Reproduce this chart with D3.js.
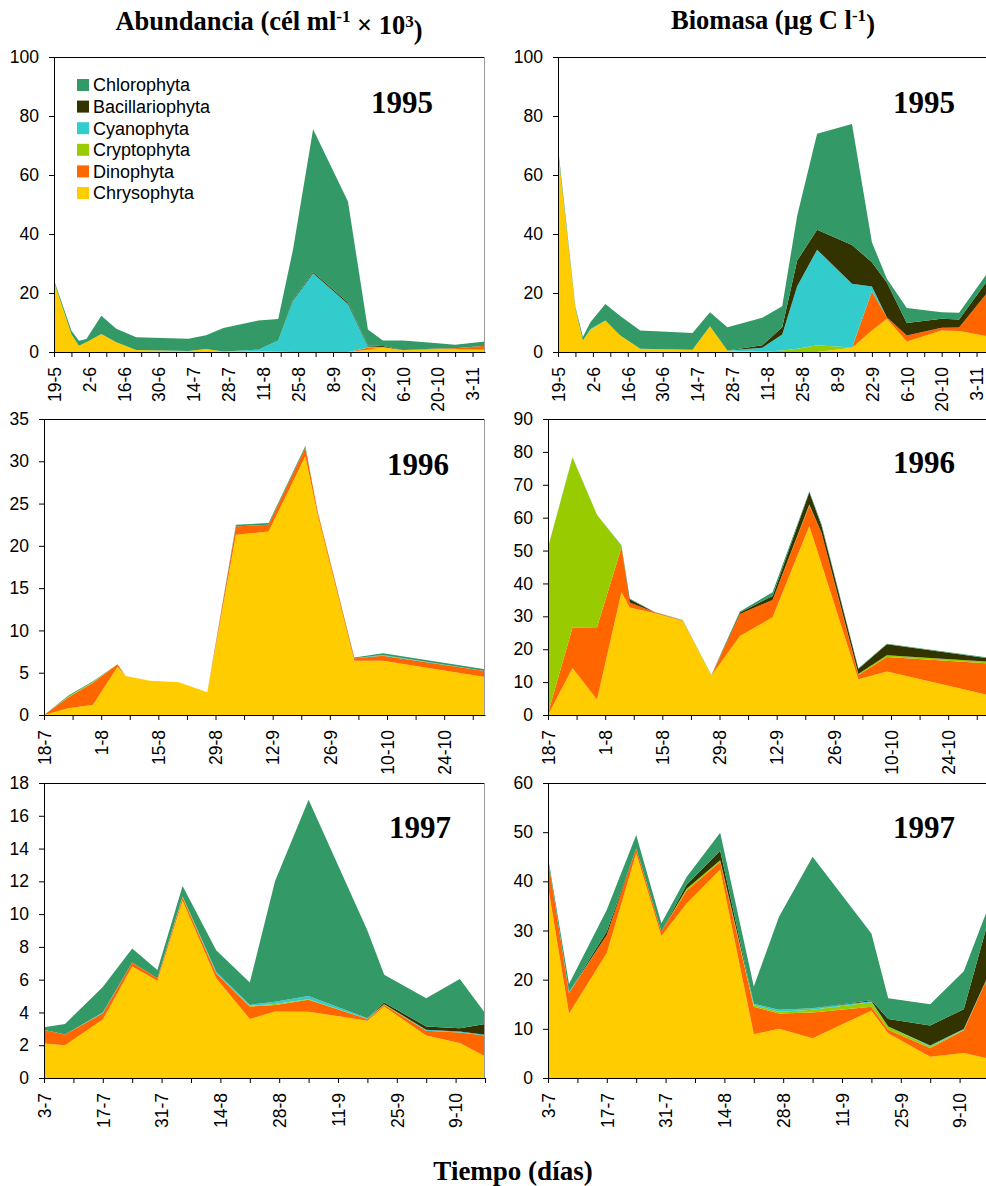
<!DOCTYPE html>
<html>
<head>
<meta charset="utf-8">
<script src="https://cdn.jsdelivr.net/npm/d3@7"></script>
<style>
  body { margin: 0; background: #fff; }
  .tick text { font-family: "Liberation Sans", Arial, sans-serif; font-size: 17.5px; fill: #000; }
  .ttl { font-family: "Liberation Serif", "Times New Roman", serif; font-weight: bold; fill: #000; }
  .leg { font-family: "Liberation Sans", Arial, sans-serif; font-size: 18px; fill: #000; }
</style>
</head>
<body>
<script>
// grupos, de abajo a arriba en el apilado
var taxa = ["Chrysophyta", "Dinophyta", "Cryptophyta", "Cyanophyta", "Bacillariophyta", "Chlorophyta"];
var colores = ["#FFCC00", "#FF6600", "#99CC00", "#33CCCC", "#333300", "#339966"];
var leyenda = ["Chlorophyta", "Bacillariophyta", "Cyanophyta", "Cryptophyta", "Dinophyta", "Chrysophyta"];

// fechas de muestreo
var fechas1995 = ["1995-05-19", "1995-05-26", "1995-05-29", "1995-06-01", "1995-06-07", "1995-06-13", "1995-06-21",
    "1995-07-12", "1995-07-19", "1995-07-26", "1995-08-09", "1995-08-17", "1995-08-23", "1995-08-31", "1995-09-14",
    "1995-09-22", "1995-09-28", "1995-10-06", "1995-10-20", "1995-10-27", "1995-11-08"];
var fechas1996 = ["1996-07-18", "1996-07-24", "1996-07-30", "1996-08-05", "1996-08-07", "1996-08-13", "1996-08-20",
    "1996-08-27", "1996-09-03", "1996-09-11", "1996-09-20", "1996-09-23", "1996-10-02", "1996-10-09", "1996-11-03"];
var fechas1997 = ["1997-07-03", "1997-07-08", "1997-07-17", "1997-07-24", "1997-07-30", "1997-08-05", "1997-08-13",
    "1997-08-21", "1997-08-27", "1997-09-04", "1997-09-18", "1997-09-22", "1997-10-02", "1997-10-10", "1997-10-16"];

// valores por fecha: [Chryso, Dino, Crypto, Cyano, Bacill, Chloro]
var abund1995 = [
    [23.8, 0, 0, 0, 0, 0.6], [6.0, 0, 0, 0, 0, 1.2], [2.1, 0, 0, 0, 0, 1.7], [3.3, 0, 0, 0, 0, 1.1],
    [6.1, 0, 0, 0, 0, 6.2], [3.3, 0, 0, 0, 0, 4.6], [0.7, 0, 0, 0, 0, 4.3], [0.3, 0, 0, 0, 0, 4.2],
    [1.0, 0, 0, 0, 0, 4.7], [0.2, 0, 0, 0, 0, 7.9], [0.2, 0, 0, 0.6, 0, 9.9], [0.1, 0, 0, 3.8, 0, 7.3],
    [0, 0, 0, 17.5, 0.3, 17.2], [0, 0, 0, 26.7, 0.4, 48.4], [0, 0, 0, 16.3, 0.5, 34.2],
    [0.8, 0.6, 0, 0.5, 0.3, 5.4], [1.6, 0.1, 0, 0, 0.3, 1.9], [0.6, 0.1, 0, 0, 0, 3.2],
    [0.9, 0.3, 0, 0, 0, 1.8], [0.9, 0.4, 0, 0, 0, 1.2], [0.8, 1.3, 0, 0, 0, 1.5]
];
var biom1995 = [
    [68.0, 0, 0, 0, 0, 1.5], [14.6, 0, 0, 0, 0, 0.6], [3.9, 0, 0, 0, 0, 1.2], [7.5, 0, 0, 0.3, 0, 2.3],
    [10.7, 0, 0, 0, 0, 5.6], [5.6, 0, 0, 0, 0, 6.6], [1.1, 0, 0, 0, 0, 6.2], [0.8, 0, 0, 0, 0, 5.6],
    [8.7, 0, 0, 0, 0, 4.8], [0.5, 0, 0, 0, 0, 7.9], [0, 0, 0.1, 1.3, 0.9, 9.3], [0, 0, 0.5, 5.4, 2.5, 7.1],
    [0, 0, 1.1, 21.2, 8.7, 15.2], [0, 0, 2.3, 32.4, 6.7, 32.6], [1.4, 0, 0.1, 21.6, 13.2, 41.0],
    [7.3, 13.2, 0, 1.7, 8.2, 6.8], [11.3, 0.5, 0, 0, 11.8, 1.2], [3.6, 2.0, 0, 0, 4.2, 5.1],
    [7.3, 0.9, 0, 0, 3.1, 2.2], [7.1, 1.2, 0, 0, 2.7, 2.3], [5.2, 15.6, 0, 0, 4.2, 2.5]
];
var abund1996 = [
    [0, 0, 0, 0, 0, 0], [0.8, 1.3, 0.1, 0, 0, 0.1], [1.2, 2.6, 0.1, 0, 0, 0.1], [5.7, 0.3, 0, 0, 0, 0],
    [4.6, 0, 0, 0, 0, 0], [4.06, 0, 0, 0, 0, 0], [3.87, 0, 0, 0, 0, 0], [2.7, 0, 0, 0, 0, 0],
    [21.3, 1.0, 0, 0, 0, 0.2], [21.7, 0.8, 0, 0, 0, 0.2], [30.6, 1.0, 0, 0, 0, 0.2], [23.7, 0.4, 0, 0, 0, 0],
    [6.4, 0.3, 0, 0, 0, 0.1], [6.4, 0.6, 0, 0.1, 0, 0.2], [4.5, 0.7, 0, 0, 0, 0.2]
];
var biom1996 = [
    [0, 0.5, 50.5, 0, 0, 0], [14.3, 12.3, 51.6, 0, 0, 0.2], [4.7, 22.0, 34.2, 0, 0, 0],
    [37.4, 13.6, 0.3, 0, 0, 0.2], [32.7, 1.5, 0, 0, 1.0, 0.2], [31.0, 0.3, 0, 0, 0, 0.1],
    [28.6, 0.1, 0.1, 0, 0, 0.1], [11.9, 0, 0.2, 0, 0, 0.1], [24.0, 6.7, 0, 0, 0.5, 0.3],
    [29.7, 5.3, 0, 0, 1.2, 1.1], [57.5, 6.2, 0.3, 0, 3.7, 0.3], [45.8, 9.5, 0, 0, 2.2, 0.5],
    [10.9, 1.3, 0.3, 0, 1.5, 0.2], [13.2, 4.4, 0.6, 0, 3.3, 0.2], [6.0, 9.7, 0.5, 0, 1.0, 0.2]
];
var abund1997 = [
    [2.1, 0.85, 0, 0, 0, 0.15], [2.0, 0.65, 0, 0, 0, 0.65], [3.57, 0.38, 0, 0.05, 0, 1.55],
    [6.8, 0.25, 0, 0, 0, 0.85], [5.93, 0.16, 0, 0, 0, 0.5], [10.82, 0.2, 0.05, 0, 0, 0.64],
    [6.09, 0.3, 0, 0.1, 0, 1.3], [3.6, 0.76, 0.05, 0.05, 0, 1.36], [4.06, 0.4, 0.05, 0.15, 0, 7.34],
    [4.05, 0.72, 0.04, 0.2, 0, 11.97], [3.5, 0.1, 0, 0.05, 0, 5.35], [4.36, 0.1, 0.04, 0, 0.1, 1.7],
    [2.6, 0.28, 0, 0.06, 0.21, 1.72], [2.13, 0.65, 0, 0.06, 0.2, 3.0], [1.32, 1.28, 0, 0.04, 0.65, 0.67]
];
var biom1997 = [
    [39.0, 5.5, 0, 0, 0, 0.5], [13.1, 4.2, 0, 0.2, 0, 1.6], [25.4, 3.7, 0, 0, 0.7, 4.4],
    [45.7, 1.0, 0, 0, 0, 2.7], [28.9, 0.9, 0, 0, 0, 1.7], [35.5, 2.6, 0.4, 0, 0.8, 1.6],
    [42.4, 1.6, 0.3, 0, 1.9, 3.7], [8.9, 5.6, 0.3, 0.3, 0, 3.5], [10.0, 3.1, 0.4, 0.4, 0, 18.9],
    [8.1, 5.2, 0.6, 0.3, 0, 30.8], [13.7, 0.8, 0.9, 0.2, 0.2, 13.6], [9.1, 0.7, 0.7, 0, 1.5, 4.2],
    [4.3, 1.8, 0.3, 0.2, 4.1, 4.3], [5.1, 4.6, 0.1, 0.15, 4.05, 7.7], [3.9, 17.2, 0.05, 0.05, 11.3, 2.6]
];

// ejes Y
var yMax = [100, 100, 35, 90, 18, 60];
var yPaso = [20, 20, 5, 10, 2, 10];

var svgWidth = 986;
var svgHeight = 1186;
var svg = d3.select("body").append("svg").attr("width", svgWidth).attr("height", svgHeight);

var parse = d3.utcParse("%Y-%m-%d");
var fmt = d3.utcFormat("%-d-%-m");

// posición de cada panel
var paneles = [
    { datos: abund1995, fechas: fechas1995, x: 54, y: 57, w: 431, h: 295, anio: "1995", ax: 433, ay: 113, leyenda: true },
    { datos: biom1995, fechas: fechas1995, x: 558, y: 57, w: 431, h: 295, anio: "1995", ax: 955, ay: 113 },
    { datos: abund1996, fechas: fechas1996, x: 44, y: 419, w: 441, h: 296, anio: "1996", ax: 449, ay: 475 },
    { datos: biom1996, fechas: fechas1996, x: 548, y: 419, w: 441, h: 296, anio: "1996", ax: 955, ay: 473 },
    { datos: abund1997, fechas: fechas1997, x: 44, y: 783, w: 441, h: 295, anio: "1997", ax: 451, ay: 838 },
    { datos: biom1997, fechas: fechas1997, x: 548, y: 783, w: 441, h: 295, anio: "1997", ax: 955, ay: 838 }
];

paneles.forEach(function (p, i) {
    var filas = p.datos.map(function (v, j) {
        var o = { fecha: parse(p.fechas[j]) };
        taxa.forEach(function (t, k) { o[t] = v[k]; });
        return o;
    });
    var inicio = filas[0].fecha;
    var fin = filas[filas.length - 1].fecha;

    var x = d3.scaleUtc().domain([inicio, fin]).range([0, p.w]);
    var y = d3.scaleLinear().domain([0, yMax[i]]).range([p.h, 0]);

    var g = svg.append("g").attr("transform", "translate(" + p.x + "," + p.y + ")");

    var capas = d3.stack().keys(taxa)(filas);
    var area = d3.area()
        .x(function (d) { return x(d.data.fecha); })
        .y0(function (d) { return y(d[0]); })
        .y1(function (d) { return y(d[1]); });

    g.selectAll("path.capa")
        .data(capas)
        .enter()
        .append("path")
        .attr("class", "capa")
        .attr("fill", function (d, k) { return colores[k]; })
        .attr("d", area);

    // marco del área de trazado
    g.append("line").attr("x1", 0).attr("x2", p.w).attr("y1", 0.5).attr("y2", 0.5).attr("stroke", "#000");
    g.append("line").attr("x1", p.w - 0.5).attr("x2", p.w - 0.5).attr("y1", 0).attr("y2", p.h).attr("stroke", "#999");

    // eje Y
    var yTicks = d3.range(0, yMax[i] + 0.001, yPaso[i]);
    g.append("g")
        .call(d3.axisLeft(y).tickValues(yTicks).tickSize(5).tickSizeOuter(0).tickPadding(10))
        .call(function (a) { a.selectAll("path, line").attr("stroke", "#000"); a.attr("font-size", null).attr("font-family", null); });

    // eje X: marcas semanales, etiquetas cada 14 días
    var nDias = d3.utcDay.count(inicio, fin);
    var xTicks = d3.range(0, nDias + 1, 7).map(function (d) { return d3.utcDay.offset(inicio, d); });
    var ejeX = g.append("g")
        .attr("transform", "translate(0," + p.h + ")")
        .call(d3.axisBottom(x).tickValues(xTicks).tickSize(5).tickSizeOuter(0)
            .tickFormat(function (d, k) { return k % 2 === 0 ? fmt(d) : ""; }));
    ejeX.attr("font-size", null).attr("font-family", null);
    ejeX.selectAll("path, line").attr("stroke", "#000");
    ejeX.selectAll("text")
        .attr("transform", "rotate(-90)")
        .attr("text-anchor", "end")
        .attr("x", -15)
        .attr("y", 0)
        .attr("dy", "0.36em");

    // año
    svg.append("text").attr("class", "ttl")
        .attr("x", p.ax).attr("y", p.ay)
        .attr("text-anchor", "end")
        .style("font-size", "31px")
        .text(p.anio);

    if (p.leyenda) {
        var ley = svg.append("g").attr("transform", "translate(77,85)");
        leyenda.forEach(function (t, k) {
            ley.append("rect")
                .attr("x", 0).attr("y", k * 21.6 - 6)
                .attr("width", 12).attr("height", 12)
                .attr("fill", colores[taxa.indexOf(t)]);
            ley.append("text").attr("class", "leg")
                .attr("x", 16).attr("y", k * 21.6)
                .attr("dy", "0.36em")
                .text(t);
        });
    }
});

// títulos
var t1 = svg.append("text").attr("class", "ttl").attr("x", 269).attr("y", 30)
    .attr("text-anchor", "middle").style("font-size", "26.5px");
t1.append("tspan").text("Abundancia (cél ml");
t1.append("tspan").attr("dy", "-0.45em").style("font-size", "17px").text("-1");
t1.append("tspan").attr("dy", "0.45em").text(" × 10");
t1.append("tspan").attr("dy", "-0.45em").style("font-size", "17px").text("3");
t1.append("tspan").attr("dy", "0.45em").text(")");

var t2 = svg.append("text").attr("class", "ttl").attr("x", 773).attr("y", 29)
    .attr("text-anchor", "middle").style("font-size", "26.5px");
t2.append("tspan").text("Biomasa (µg C l");
t2.append("tspan").attr("dy", "-0.45em").style("font-size", "17px").text("-1");
t2.append("tspan").attr("dy", "0.45em").text(")");

svg.append("text").attr("class", "ttl").attr("x", 513).attr("y", 1180)
    .attr("text-anchor", "middle").style("font-size", "27px")
    .text("Tiempo (días)");
</script>
</body>
</html>
